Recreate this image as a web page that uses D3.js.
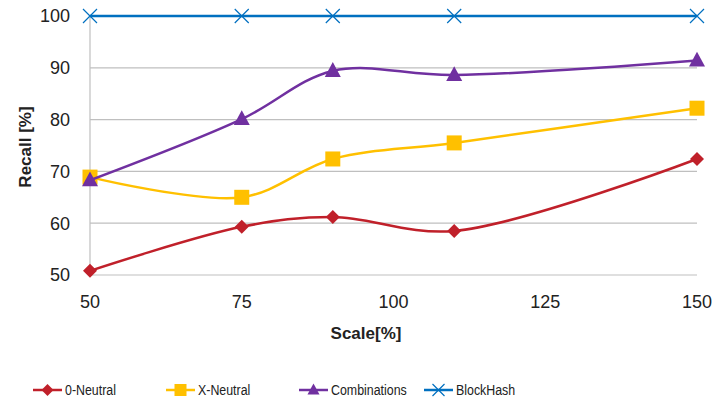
<!DOCTYPE html>
<html><head><meta charset="utf-8">
<script src="https://cdn.jsdelivr.net/npm/d3@7"></script>
<style>body{margin:0;background:#fff}svg{display:block}</style>
</head><body>
<svg id="c" width="715" height="402"></svg>
<script>
const scales = [50, 75, 90, 110, 150];
const neutral0 = [50.8, 59.3, 61.2, 58.5, 72.4];
const neutralX = [68.9, 65.0, 72.4, 75.5, 82.2];
const combinations = [68.3, 80.1, 89.4, 88.6, 91.4];
const blockHash = [100, 100, 100, 100, 100];
const xTicks = [50, 75, 100, 125, 150];
const yTicks = [50, 60, 70, 80, 90, 100];
const seriesNames = ["0-Neutral", "X-Neutral", "Combinations", "BlockHash"];
const seriesColors = ["#C0202A", "#FFC000", "#7030A0", "#0070C0"];
const seriesValues = [neutral0, neutralX, combinations, blockHash];
const seriesMarkers = ["diamond", "square", "triangle", "cross"];

const svg = d3.select("#c");
const font = "Liberation Sans, Arial, sans-serif";
const x = d3.scaleLinear().domain([50, 150]).range([90, 697]);
const y = d3.scaleLinear().domain([50, 100]).range([275, 16]);

// gridlines
svg.append("g").selectAll("line").data(yTicks).join("line")
  .attr("x1", 90).attr("x2", 697).attr("y1", d => y(d)).attr("y2", d => y(d))
  .attr("stroke", "#BFBFBF").attr("stroke-width", 1.2);
// y axis line
svg.append("line").attr("x1", 90).attr("x2", 90).attr("y1", y(100)).attr("y2", y(50))
  .attr("stroke", "#BFBFBF").attr("stroke-width", 1.2);

// tick labels
svg.append("g").selectAll("text").data(yTicks).join("text")
  .attr("x", 70).attr("y", d => y(d)).attr("dy", "0.35em").attr("text-anchor", "end")
  .attr("font-family", font).attr("font-size", 18).attr("fill", "#222").text(d => d);
svg.append("g").selectAll("text").data(xTicks).join("text")
  .attr("x", d => x(d)).attr("y", 302).attr("dy", "0.35em").attr("text-anchor", "middle")
  .attr("font-family", font).attr("font-size", 18).attr("fill", "#222").text(d => d);

// axis titles
svg.append("text").attr("x", 366).attr("y", 339).attr("text-anchor", "middle")
  .attr("font-family", font).attr("font-size", 17).attr("font-weight", "bold").attr("fill", "#222").text("Scale[%]");
svg.append("text").attr("transform", "translate(31,147) rotate(-90)").attr("text-anchor", "middle")
  .attr("font-family", font).attr("font-size", 17).attr("font-weight", "bold").attr("fill", "#222").text("Recall [%]");

function drawMarker(g, type, cx, cy, color, s) {
  if (type === "diamond") {
    g.append("path").attr("d", `M${cx},${cy - s}L${cx + s},${cy}L${cx},${cy + s}L${cx - s},${cy}Z`).attr("fill", color);
  } else if (type === "square") {
    g.append("rect").attr("x", cx - s).attr("y", cy - s).attr("width", 2 * s).attr("height", 2 * s).attr("fill", color);
  } else if (type === "triangle") {
    g.append("path").attr("d", `M${cx},${cy - s * 1.1}L${cx + s},${cy + s * 0.75}L${cx - s},${cy + s * 0.75}Z`).attr("fill", color);
  } else {
    g.append("path").attr("d", `M${cx - s},${cy - s}L${cx + s},${cy + s}M${cx - s},${cy + s}L${cx + s},${cy - s}`)
      .attr("stroke", color).attr("stroke-width", 1.2).attr("fill", "none");
  }
}
const sizes = {diamond: 7, square: 7.5, triangle: 8, cross: 7};

const line = d3.line().x((d, i) => x(scales[i])).y(d => y(d)).curve(d3.curveCatmullRom.alpha(0.5));
seriesValues.forEach((vals, k) => {
  const g = svg.append("g");
  g.append("path").datum(vals).attr("d", line).attr("fill", "none")
    .attr("stroke", seriesColors[k]).attr("stroke-width", 2.5);
  vals.forEach((v, i) => drawMarker(g, seriesMarkers[k], x(scales[i]), y(v), seriesColors[k], sizes[seriesMarkers[k]]));
});

// legend
const legX = [33, 166, 299, 424];
seriesNames.forEach((n, k) => {
  const g = svg.append("g");
  const lx = legX[k], ly = 390;
  g.append("line").attr("x1", lx).attr("x2", lx + 29).attr("y1", ly).attr("y2", ly)
    .attr("stroke", seriesColors[k]).attr("stroke-width", 2.5);
  drawMarker(g, seriesMarkers[k], lx + 14.5, ly, seriesColors[k], 6);
  g.append("text").attr("transform", `translate(${lx + 32},${ly}) scale(0.8,1)`).attr("dy", "0.35em")
    .attr("font-family", font).attr("font-size", 15.5).attr("fill", "#222").text(n);
});
</script>
</body></html>
